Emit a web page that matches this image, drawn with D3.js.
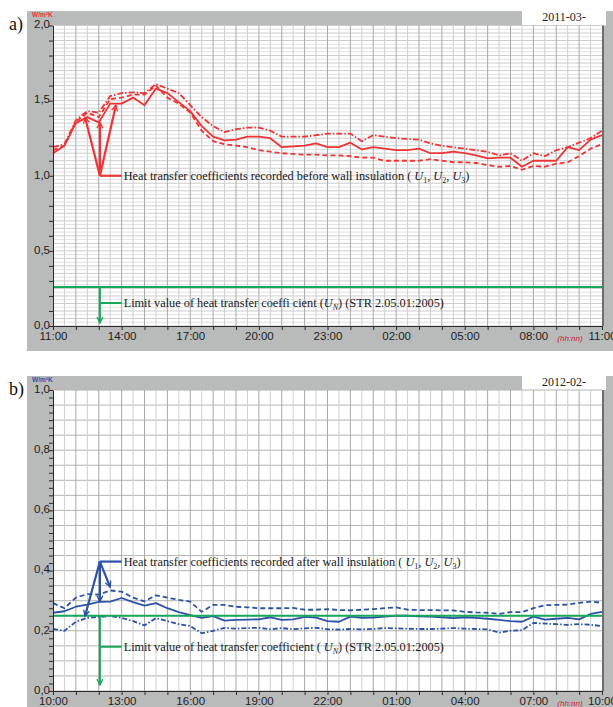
<!DOCTYPE html>
<html>
<head>
<meta charset="utf-8">
<script src="https://cdn.jsdelivr.net/npm/d3@7"></script>
<style>
  body { margin: 0; background: #fff; }
  svg { display: block; }
</style>
</head>
<body>
<div id="chart"></div>
<script>
// sample times (every 30 min) for the two measurement days
var timesA = ["11:00","11:30","12:00","12:30","13:00","13:30","14:00","14:30","15:00","15:30",
  "16:00","16:30","17:00","17:30","18:00","18:30","19:00","19:30","20:00","20:30",
  "21:00","21:30","22:00","22:30","23:00","23:30","00:00","00:30","01:00","01:30",
  "02:00","02:30","03:00","03:30","04:00","04:30","05:00","05:30","06:00","06:30",
  "07:00","07:30","08:00","08:30","09:00","09:30","10:00","10:30","11:00"];
var timesB = ["10:00","10:30","11:00","11:30","12:00","12:30","13:00","13:30","14:00","14:30",
  "15:00","15:30","16:00","16:30","17:00","17:30","18:00","18:30","19:00","19:30",
  "20:00","20:30","21:00","21:30","22:00","22:30","23:00","23:30","00:00","00:30",
  "01:00","01:30","02:00","02:30","03:00","03:30","04:00","04:30","05:00","05:30",
  "06:00","06:30","07:00","07:30","08:00","08:30","09:00","09:30","10:00"];

// a) before insulation, W/m2K
var u1A = [1.15,1.20,1.35,1.39,1.355,1.48,1.48,1.52,1.47,1.58,
  1.55,1.49,1.43,1.33,1.26,1.235,1.24,1.26,1.26,1.25,
  1.19,1.195,1.20,1.215,1.19,1.19,1.22,1.175,1.19,1.18,
  1.17,1.17,1.18,1.15,1.15,1.16,1.15,1.135,1.115,1.12,
  1.12,1.06,1.10,1.10,1.10,1.19,1.17,1.24,1.27];
var u2A = [1.19,1.21,1.37,1.43,1.42,1.53,1.55,1.555,1.55,1.61,
  1.58,1.55,1.47,1.39,1.33,1.29,1.31,1.32,1.32,1.30,
  1.26,1.26,1.26,1.27,1.28,1.28,1.28,1.23,1.27,1.26,
  1.25,1.245,1.24,1.215,1.20,1.19,1.18,1.17,1.16,1.135,
  1.15,1.10,1.15,1.13,1.17,1.19,1.22,1.25,1.30];
var u3A = [1.17,1.20,1.36,1.42,1.39,1.51,1.52,1.54,1.54,1.60,
  1.52,1.48,1.42,1.30,1.23,1.21,1.20,1.19,1.17,1.16,
  1.15,1.145,1.14,1.14,1.135,1.135,1.13,1.12,1.12,1.10,
  1.10,1.10,1.10,1.11,1.10,1.09,1.09,1.085,1.07,1.06,
  1.065,1.04,1.065,1.06,1.08,1.09,1.13,1.18,1.21];

// b) after insulation, W/m2K
var u1B = [0.26,0.265,0.28,0.287,0.296,0.297,0.309,0.295,0.284,0.292,
  0.275,0.262,0.252,0.243,0.249,0.234,0.236,0.237,0.238,0.245,
  0.236,0.238,0.246,0.244,0.232,0.23,0.247,0.243,0.244,0.247,
  0.25,0.25,0.248,0.247,0.245,0.242,0.245,0.243,0.24,0.236,
  0.232,0.23,0.247,0.237,0.24,0.243,0.238,0.256,0.263];
var u2B = [0.292,0.275,0.31,0.322,0.32,0.334,0.33,0.31,0.298,0.318,
  0.31,0.303,0.297,0.263,0.286,0.286,0.28,0.278,0.275,0.275,
  0.275,0.276,0.27,0.27,0.272,0.269,0.268,0.27,0.272,0.275,
  0.278,0.27,0.269,0.269,0.268,0.268,0.263,0.261,0.26,0.256,
  0.262,0.262,0.275,0.285,0.286,0.287,0.293,0.297,0.293];
var u3B = [0.206,0.20,0.23,0.243,0.246,0.249,0.243,0.232,0.218,0.242,
  0.232,0.222,0.216,0.192,0.20,0.21,0.207,0.209,0.21,0.205,
  0.209,0.205,0.208,0.21,0.205,0.204,0.206,0.205,0.206,0.209,
  0.208,0.207,0.206,0.206,0.207,0.209,0.207,0.206,0.205,0.194,
  0.20,0.202,0.226,0.224,0.222,0.22,0.222,0.22,0.216];

// limit value U_N
var limitA = 0.26;
var limitB = 0.25;

// axis labels
var xLabelsA = ["11:00","14:00","17:00","20:00","23:00","02:00","05:00","08:00","11:00"];
var xLabelsB = ["10:00","13:00","16:00","19:00","22:00","01:00","04:00","07:00","10:00"];
var yTicksA = [0, 0.5, 1, 1.5, 2];
var yLabelsA = ["0,0","0,5","1,0","1,5","2,0"];
var yTicksB = [0, 0.2, 0.4, 0.6, 0.8, 1];
var yLabelsB = ["0,0","0,2","0,4","0,6","0,8","1,0"];

// annotation anchors [elapsed hours, value]
var noteApexA = [2.05, 1.0];
var noteTargetsA = [[1.4, 1.39], [2.05, 1.355], [2.75, 1.47]];
var noteApexB = [2.05, 0.43];
var noteTargetsB = [[1.4, 0.249], [2.05, 0.297], [2.5, 0.345]];
var limitBranchA = 0.153;
var limitBranchB = 0.147;

// clock times -> hours elapsed since the first time in the list
function toHours(times) {
  var out = [], prev = null, add = 0, start = null;
  times.forEach(function (t) {
    var p = t.split(":");
    var h = +p[0] + (+p[1]) / 60;
    if (start === null) start = h;
    if (prev !== null && h + add < prev) add += 24;
    out.push(h + add - start);
    prev = h + add;
  });
  return out;
}

var W = 613, H = 707;
var svg = d3.select("#chart").append("svg")
  .attr("width", W).attr("height", H);

var defs = svg.append("defs");
function marker(id, color) {
  defs.append("marker")
    .attr("id", id)
    .attr("viewBox", "-10 -6 12 12")
    .attr("markerWidth", 10).attr("markerHeight", 10)
    .attr("markerUnits", "userSpaceOnUse")
    .attr("orient", "auto")
    .append("path")
    .attr("d", "M-7,-3.5L0,0L-7,3.5")
    .attr("fill", "none")
    .attr("stroke", color)
    .attr("stroke-width", 1.6);
}
marker("arrRed", "#ee3437");
marker("arrBlue", "#2b52a6");
marker("arrGreen", "#17a95a");

var serif = "'Liberation Serif', 'DejaVu Serif', serif";
var sans = "'Liberation Sans', Arial, sans-serif";

function drawPanel(p) {
  var g = svg.append("g");
  var x = d3.scaleLinear().domain([0, 24]).range([53, 602]);
  var y = d3.scaleLinear().domain([0, p.yMax]).range([p.bottom, p.top]);

  // grey frame
  g.append("rect").attr("x", 27).attr("y", p.frameTop)
    .attr("width", W - 27).attr("height", p.frameBottom - p.frameTop)
    .attr("fill", "#b9baba");
  g.append("rect").attr("x", 53).attr("y", p.top)
    .attr("width", 549).attr("height", p.bottom - p.top)
    .attr("fill", "#fff");
  // date box
  g.append("rect").attr("x", 522).attr("y", p.frameTop - 11)
    .attr("width", 84).attr("height", p.top - p.frameTop + 11)
    .attr("fill", "#fff");
  g.append("text").attr("x", 564).attr("y", p.frameTop + 10)
    .attr("text-anchor", "middle")
    .style("font", "12px " + serif).attr("fill", "#222")
    .text(p.date);

  // grid
  var grid = g.append("g");
  grid.selectAll(".hg").data(d3.range(0, p.yMax + 1e-6, 0.05))
    .enter().append("line")
    .attr("x1", 53).attr("x2", 602)
    .attr("y1", function (d) { return y(d); })
    .attr("y2", function (d) { return y(d); })
    .attr("stroke", p.hGridColor).attr("stroke-width", 1);
  if (p.hGridFine) {
    grid.selectAll(".hf").data(d3.range(0.025, p.yMax, 0.05))
      .enter().append("line")
      .attr("x1", 53).attr("x2", 602)
      .attr("y1", function (d) { return y(d); })
      .attr("y2", function (d) { return y(d); })
      .attr("stroke", "#e2e2e2").attr("stroke-width", 1);
  }
  grid.selectAll(".vg").data(d3.range(0.5, 24, 0.5))
    .enter().append("line")
    .attr("y1", p.top).attr("y2", p.bottom)
    .attr("x1", function (d) { return x(d); })
    .attr("x2", function (d) { return x(d); })
    .attr("stroke", function (d) { return d % 1 === 0 ? "#a9a9a9" : "#cfcfcf"; })
    .attr("stroke-width", 1);

  // right border
  g.append("line").attr("x1", 603).attr("x2", 603)
    .attr("y1", p.top).attr("y2", p.bottom)
    .attr("stroke", "#6d6d6d").attr("stroke-width", 2);

  // series
  var hours = toHours(p.times);
  var line = d3.line()
    .x(function (d, i) { return x(hours[i]); })
    .y(function (d) { return y(d); });
  p.series.forEach(function (s) {
    g.append("path").datum(s.values)
      .attr("d", line)
      .attr("fill", "none")
      .attr("stroke", p.color)
      .attr("stroke-width", 1.8)
      .attr("stroke-linejoin", "round")
      .attr("stroke-dasharray", s.dash);
  });

  // limit line
  g.append("line").attr("x1", x(0)).attr("x2", x(24))
    .attr("y1", y(p.limit)).attr("y2", y(p.limit))
    .attr("stroke", "#17a95a").attr("stroke-width", 2);

  // axes
  var yMap = {};
  p.yTicks.forEach(function (v, i) { yMap[v.toFixed(3)] = p.yLabels[i]; });
  var yAxis = d3.axisLeft(y)
    .tickValues(d3.range(0, p.yMax + 1e-6, p.yMinor))
    .tickSize(4).tickSizeOuter(0)
    .tickFormat(function (d) { return yMap[d.toFixed(3)] || ""; });
  var ya = g.append("g").attr("transform", "translate(53,0)").call(yAxis);
  ya.selectAll("text").style("font", "11.5px " + sans).attr("fill", "#1e1e1e").attr("x", -3).attr("dy", "0.2em");
  ya.selectAll("line, path").attr("stroke", "#2a2a2a");

  var xLabelHours = toHours(p.xLabels);
  var xMap = {};
  xLabelHours.forEach(function (h, i) { xMap[h] = p.xLabels[i]; });
  var xAxis = d3.axisBottom(x)
    .tickValues(d3.range(0, 25, 1))
    .tickSize(4).tickSizeOuter(0)
    .tickFormat(function (d) { return xMap[d] || ""; });
  var xa = g.append("g").attr("transform", "translate(0," + p.bottom + ")").call(xAxis);
  xa.selectAll("text").style("font", "11.5px " + sans).attr("fill", "#1e1e1e").attr("y", 6);
  xa.selectAll("line, path").attr("stroke", "#2a2a2a");

  g.append("text").attr("x", x(22.6)).attr("y", p.bottom + 15)
    .attr("text-anchor", "middle")
    .style("font", "italic 8px " + sans).attr("fill", "#c8202a")
    .text("(hh:nn)");

  // unit and panel letter
  g.append("text").attr("x", 32).attr("y", p.frameTop + 6)
    .style("font", "bold 6.5px " + sans).attr("fill", p.color)
    .text("W/m\u00b2K");
  g.append("text").attr("x", 9).attr("y", p.frameTop + 19)
    .style("font", "18px " + serif).attr("fill", "#111")
    .text(p.letter);

  // annotation arrows for U1..U3
  var ax = x(p.apex[0]), ay = y(p.apex[1]);
  p.targets.forEach(function (t) {
    g.append("line").attr("x1", ax).attr("y1", ay)
      .attr("x2", x(t[0])).attr("y2", y(t[1]))
      .attr("stroke", p.color).attr("stroke-width", 2.2)
      .attr("marker-end", "url(#" + p.marker + ")");
  });
  g.append("line").attr("x1", ax).attr("x2", x(3.0))
    .attr("y1", ay).attr("y2", ay)
    .attr("stroke", p.color).attr("stroke-width", 2.2);
  writeNote(g, x(3.0) + 2, ay, p.noteText, ["1", "2", "3"]);

  // limit arrow
  g.append("line").attr("x1", ax).attr("x2", ax)
    .attr("y1", y(p.limit)).attr("y2", y(0.02))
    .attr("stroke", "#17a95a").attr("stroke-width", 2)
    .attr("marker-end", "url(#arrGreen)");
  var by = y(p.branch);
  g.append("line").attr("x1", ax).attr("x2", x(3.0))
    .attr("y1", by).attr("y2", by)
    .attr("stroke", "#17a95a").attr("stroke-width", 2);
  writeLimit(g, x(3.0) + 2, by, p.limitText);
}

function writeNote(g, tx, ty, lead, subs) {
  var t = g.append("text").attr("x", tx).attr("y", ty + 4)
    .style("font", "12.3px " + serif).attr("fill", "#1a1a1a");
  t.append("tspan").text(lead + "( ");
  subs.forEach(function (s, i) {
    t.append("tspan").style("font-style", "italic").text("U");
    t.append("tspan").attr("dy", 3).style("font-size", "8px").text(s);
    t.append("tspan").attr("dy", -3).text(i < subs.length - 1 ? ", " : ")");
  });
}

function writeLimit(g, tx, ty, parts) {
  var t = g.append("text").attr("x", tx).attr("y", ty + 4)
    .style("font", "12.3px " + serif).attr("fill", "#1a1a1a");
  t.append("tspan").text(parts[0]);
  t.append("tspan").style("font-style", "italic").text("U");
  t.append("tspan").attr("dy", 3).style("font-size", "8px").style("font-style", "italic").text("N");
  t.append("tspan").attr("dy", -3).text(parts[1]);
}

drawPanel({
  letter: "a)", date: "2011-03-", color: "#ee3437", marker: "arrRed",
  frameTop: 11, frameBottom: 351, top: 25.5, bottom: 326, yMax: 2, yMinor: 0.1,
  hGridColor: "#cdcdcd", hGridFine: true,
  times: timesA, xLabels: xLabelsA, yTicks: yTicksA, yLabels: yLabelsA,
  series: [
    { values: u1A, dash: null },
    { values: u2A, dash: "6,2,1.5,2" },
    { values: u3A, dash: "5,3" }
  ],
  limit: limitA, branch: limitBranchA,
  apex: noteApexA, targets: noteTargetsA,
  noteText: "Heat transfer coefficients recorded before wall insulation ",
  limitText: ["Limit value of heat transfer coeffi cient (", ") (STR 2.05.01:2005)"]
});

drawPanel({
  letter: "b)", date: "2012-02-", color: "#2b52a6", marker: "arrBlue",
  frameTop: 376, frameBottom: 720, top: 390, bottom: 691, yMax: 1, yMinor: 0.025,
  hGridColor: "#b4b4b4", hGridFine: false,
  times: timesB, xLabels: xLabelsB, yTicks: yTicksB, yLabels: yLabelsB,
  series: [
    { values: u1B, dash: null },
    { values: u2B, dash: "5,3" },
    { values: u3B, dash: "5,2,1.5,2" }
  ],
  limit: limitB, branch: limitBranchB,
  apex: noteApexB, targets: noteTargetsB,
  noteText: "Heat transfer coefficients recorded after wall insulation ",
  limitText: ["Limit value of heat transfer coefficient ( ", ") (STR 2.05.01:2005)"]
});
</script>
</body>
</html>
